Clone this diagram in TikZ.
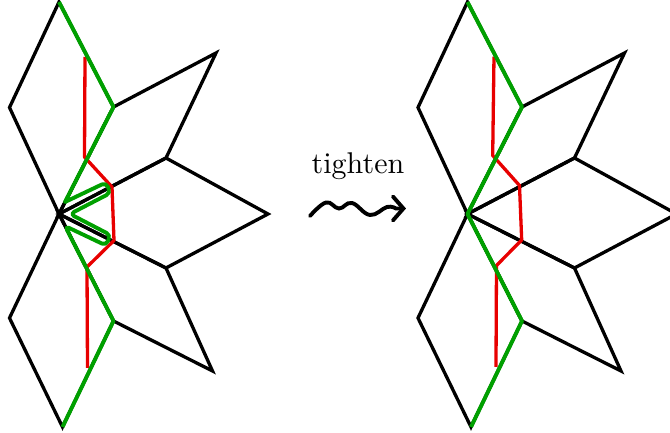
\documentclass[tikz,border=0pt]{standalone}
\usetikzlibrary{arrows.meta}
\definecolor{pathgreen}{RGB}{0,160,0}
\definecolor{pathred}{RGB}{232,0,0}
\begin{document}
\begin{tikzpicture}[x=0.33333pt,y=-0.33333pt,
  tile/.style={line width=1.1pt,black,line join=miter},
  redpath/.style={line width=1.1pt,pathred,line join=round},
  greenpath/.style={line width=1.3pt,pathgreen,line join=round},
  squiggle/.style={line width=1.3pt,line cap=round,-{Straight Barb[length=3.5pt,width=8pt,line cap=round]}}]
\useasboundingbox (0,0) rectangle (670,433);

% vertices of the two figures
\foreach \p/\dx in {l/0,r/408.5} {
  \begin{scope}[shift={(\dx,0)}]
    \coordinate (\p C)  at (59,214);
    \coordinate (\p A)  at (59,2);
    \coordinate (\p L1) at (9.5,107.5);
    \coordinate (\p R1) at (113.5,107);
    \coordinate (\p U)  at (216,53);
    \coordinate (\p M1) at (166,158);
    \coordinate (\p E)  at (268,214);
    \coordinate (\p M2) at (166,268);
    \coordinate (\p D)  at (212.5,371);
    \coordinate (\p R2) at (113.5,321);
    \coordinate (\p B)  at (62.5,427);
    \coordinate (\p L2) at (9.5,318);
  \end{scope}
}

% tiles
\foreach \p in {l,r} {
  \draw[tile] (\p C) -- (\p L1) -- (\p A) -- (\p R1) -- cycle;
  \draw[tile] (\p C) -- (\p R1) -- (\p U) -- (\p M1) -- cycle;
  \draw[tile] (\p C) -- (\p M1) -- (\p E) -- (\p M2) -- cycle;
  \draw[tile] (\p C) -- (\p M2) -- (\p D) -- (\p R2) -- cycle;
  \draw[tile] (\p C) -- (\p R2) -- (\p B) -- (\p L2) -- cycle;
}

% red paths
\coordinate (lr1) at (85,57);
\coordinate (lr2) at (84.5,157);
\coordinate (lr3) at (112,187);
\coordinate (lr4) at (114,240.5);
\coordinate (lr5) at (87,267);
\coordinate (lr6) at (87.5,368);
\draw[redpath] (lr1) -- (lr2) -- (lr3) -- (lr4) -- (lr5) -- (lr6);

\coordinate (rr1) at (494,56.7);
\coordinate (rr2) at (492.7,155.5);
\coordinate (rr3) at (519.5,185.5);
\coordinate (rr4) at (521.7,240);
\coordinate (rr5) at (496.5,265.5);
\coordinate (rr6) at (496,367);
\draw[redpath] (rr1) -- (rr2) -- (rr3) -- (rr4) -- (rr5) -- (rr6);

% green paths
\coordinate (g1) at (65,202);
\coordinate (g2) at (106,182.5);
\coordinate (g3) at (110.5,193);
\coordinate (g4) at (70,214);
\coordinate (g5) at (110.5,235);
\coordinate (g6) at (106,245.5);
\coordinate (g7) at (65,226);
\draw[greenpath] (lA) -- (lR1) -- (g1) [rounded corners=1.5pt] -- (g2) -- (g3) -- (g4) -- (g5) -- (g6) -- (g7) [sharp corners] -- (lR2) -- (lB);
\draw[greenpath] (rA) -- (rR1) -- (rC) -- (rR2) -- (rB);

% label and squiggly arrow
\node[anchor=base,inner sep=0pt] (lbl) at (358,173.3) {tighten};
\coordinate (sqEnd) at (406,208.5);
\draw[squiggle] plot[smooth,tension=0.7] coordinates {(310,216) (326,202.5) (339,208.5) (352,203) (370,215) (387,207) (396,208.5)} -- (sqEnd);
\end{tikzpicture}
\end{document}
